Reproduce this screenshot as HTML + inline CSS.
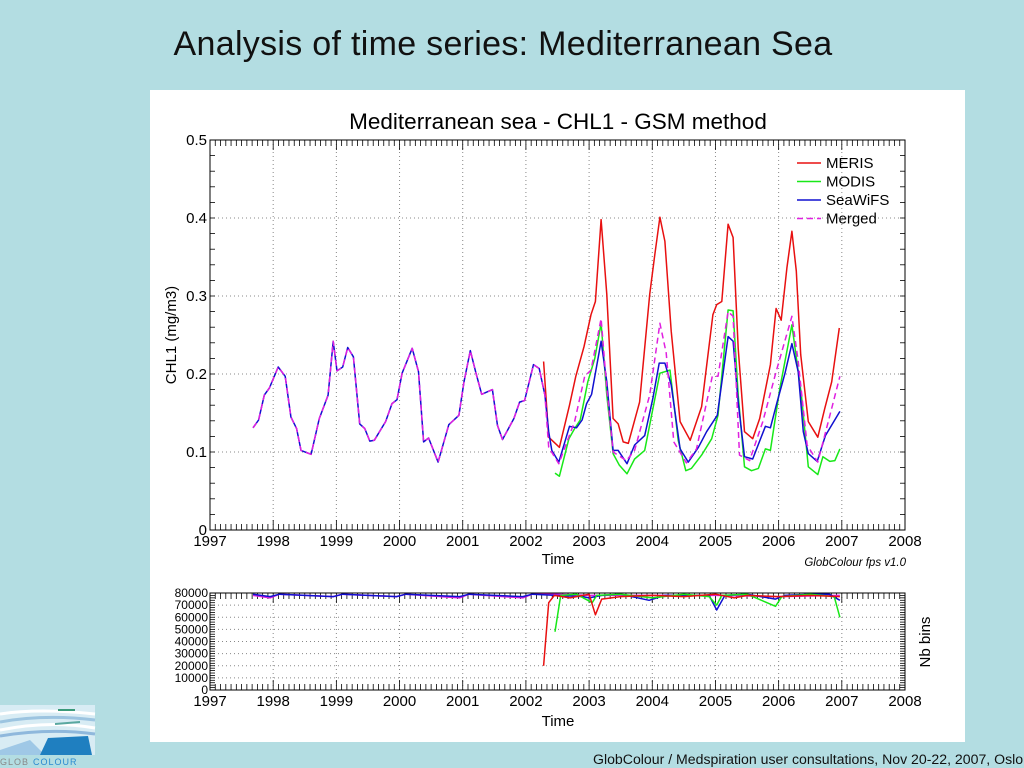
<!DOCTYPE html>
<html><head><meta charset="utf-8">
<style>
html,body{margin:0;padding:0;}
body{width:1024px;height:768px;background:#b3dde2;position:relative;overflow:hidden;font-family:"Liberation Sans",sans-serif;}
#slide-title{position:absolute;left:0;width:1006px;top:25px;text-align:center;font-size:34px;color:#111;font-family:"Liberation Sans",sans-serif;letter-spacing:0.3px;white-space:nowrap;}
#panel{position:absolute;left:150px;top:90px;width:815px;height:652px;background:#fff;}
#footer{position:absolute;left:593px;top:751px;font-size:14.1px;color:#111;white-space:nowrap;}
svg text{font-family:"Liberation Sans",sans-serif;}
</style></head><body>
<div id="slide-title">Analysis of time series: Mediterranean Sea</div>
<div id="panel"></div>
<svg id="logo" style="position:absolute;left:0;top:700px" width="100" height="68">
 <rect x="0" y="5" width="95" height="50" fill="#d8ecf4"/>
 <path d="M0 14 Q40 8 95 14" stroke="#fff" stroke-width="3" fill="none"/>
 <path d="M0 22 Q45 14 95 20" stroke="#9cc4e0" stroke-width="3" fill="none"/>
 <path d="M0 30 Q50 20 95 28" stroke="#fff" stroke-width="3" fill="none"/>
 <path d="M0 36 Q50 28 95 34" stroke="#8fb8dc" stroke-width="3" fill="none"/>
 <path d="M58 10 L75 10" stroke="#3a9a7a" stroke-width="2"/>
 <path d="M55 24 L80 22" stroke="#5aa8a0" stroke-width="2"/>
 <polygon points="0,50 30,40 45,55 0,55" fill="#9fc8e6"/>
 <polygon points="40,55 48,38 88,36 92,55" fill="#1f7fc0"/>
 <text x="0" y="65" font-size="9" fill="#888" letter-spacing="1">GLOB</text>
 <text x="33" y="65" font-size="9" fill="#2a8ad0" letter-spacing="1">COLOUR</text>
</svg>
<div id="footer">GlobColour / Medspiration user consultations, Nov 20-22, 2007, Oslo</div>
<svg id="chart" style="position:absolute;left:0;top:0" width="1024" height="768"></svg>
<script>
// ---- data ----
const seawifsT=[1997.68,1997.77,1997.86,1997.94,1998.08,1998.19,1998.28,1998.37,1998.44,1998.6,1998.73,1998.87,1998.95,1999.01,1999.10,1999.18,1999.27,1999.37,1999.45,1999.53,1999.6,1999.78,1999.88,1999.96,2000.04,2000.2,2000.3,2000.38,2000.46,2000.61,2000.78,2000.94,2001.02,2001.12,2001.21,2001.30,2001.47,2001.55,2001.63,2001.81,2001.9,2001.98,2002.12,2002.21,2002.3,2002.36,2002.41,2002.52,2002.69,2002.8,2002.89,2002.96,2003.04,2003.19,2003.28,2003.38,2003.46,2003.6,2003.72,2003.88,2004.01,2004.11,2004.20,2004.30,2004.44,2004.57,2004.73,2004.86,2005.03,2005.2,2005.28,2005.36,2005.46,2005.59,2005.79,2005.87,2005.97,2006.1,2006.21,2006.31,2006.39,2006.47,2006.61,2006.74,2006.97];
const seawifsV=[0.131,0.141,0.173,0.182,0.209,0.197,0.145,0.130,0.102,0.097,0.143,0.173,0.242,0.204,0.209,0.234,0.222,0.136,0.130,0.114,0.115,0.139,0.162,0.167,0.201,0.233,0.203,0.113,0.118,0.087,0.135,0.147,0.190,0.230,0.201,0.174,0.180,0.134,0.116,0.143,0.164,0.166,0.212,0.207,0.173,0.126,0.102,0.087,0.133,0.131,0.141,0.162,0.174,0.242,0.190,0.102,0.102,0.085,0.109,0.121,0.169,0.214,0.214,0.186,0.104,0.087,0.106,0.126,0.147,0.248,0.242,0.164,0.094,0.091,0.133,0.131,0.162,0.201,0.239,0.203,0.126,0.098,0.088,0.121,0.152];
const mergedT=[1997.68,1997.77,1997.86,1997.94,1998.08,1998.19,1998.28,1998.37,1998.44,1998.6,1998.73,1998.87,1998.95,1999.01,1999.10,1999.18,1999.27,1999.37,1999.45,1999.53,1999.6,1999.78,1999.88,1999.96,2000.04,2000.2,2000.3,2000.38,2000.46,2000.61,2000.78,2000.94,2001.02,2001.12,2001.21,2001.30,2001.47,2001.55,2001.63,2001.81,2001.9,2001.98,2002.12,2002.21,2002.3,2002.36,2002.52,2002.77,2002.93,2003.03,2003.19,2003.28,2003.38,2003.59,2003.72,2003.96,2004.12,2004.22,2004.34,2004.54,2004.70,2004.95,2005.04,2005.2,2005.28,2005.38,2005.54,2005.75,2005.96,2006.21,2006.31,2006.45,2006.62,2006.84,2006.97];
const mergedV=[0.131,0.141,0.173,0.182,0.209,0.197,0.145,0.130,0.102,0.097,0.143,0.173,0.242,0.204,0.209,0.234,0.222,0.136,0.130,0.114,0.115,0.139,0.162,0.167,0.201,0.233,0.203,0.113,0.118,0.087,0.135,0.147,0.190,0.230,0.201,0.174,0.180,0.134,0.116,0.143,0.164,0.166,0.212,0.207,0.173,0.106,0.085,0.139,0.197,0.205,0.271,0.181,0.100,0.089,0.102,0.173,0.265,0.227,0.113,0.086,0.104,0.197,0.197,0.280,0.274,0.096,0.089,0.139,0.203,0.274,0.216,0.109,0.087,0.156,0.197];
const merisT=[2002.28,2002.36,2002.53,2002.69,2002.79,2002.92,2003.03,2003.10,2003.19,2003.28,2003.38,2003.46,2003.54,2003.62,2003.8,2003.96,2004.04,2004.12,2004.20,2004.30,2004.44,2004.60,2004.78,2004.96,2005.02,2005.1,2005.2,2005.28,2005.36,2005.46,2005.59,2005.7,2005.87,2005.96,2006.04,2006.13,2006.21,2006.28,2006.35,2006.47,2006.62,2006.73,2006.84,2006.96];
const merisV=[0.216,0.119,0.106,0.160,0.197,0.235,0.276,0.293,0.398,0.302,0.143,0.136,0.113,0.111,0.164,0.302,0.353,0.401,0.370,0.255,0.139,0.115,0.158,0.276,0.289,0.293,0.392,0.375,0.233,0.126,0.117,0.143,0.212,0.284,0.269,0.336,0.383,0.332,0.225,0.139,0.119,0.156,0.190,0.259];
const modisT=[2002.46,2002.53,2002.68,2002.77,2002.86,2002.98,2003.09,2003.19,2003.28,2003.38,2003.48,2003.6,2003.72,2003.88,2003.99,2004.12,2004.28,2004.41,2004.53,2004.62,2004.78,2004.94,2005.04,2005.20,2005.28,2005.36,2005.46,2005.57,2005.68,2005.79,2005.87,2006.02,2006.21,2006.36,2006.47,2006.62,2006.70,2006.81,2006.89,2006.97];
const modisV=[0.073,0.069,0.117,0.130,0.141,0.190,0.220,0.265,0.173,0.098,0.083,0.072,0.091,0.102,0.147,0.201,0.205,0.115,0.076,0.079,0.096,0.117,0.147,0.282,0.281,0.173,0.081,0.076,0.079,0.104,0.102,0.182,0.263,0.173,0.081,0.071,0.094,0.088,0.089,0.104];
// Nb bins
const binsMerisT=[2002.28,2002.36,2002.45,2002.7,2003.0,2003.1,2003.2,2003.5,2004.0,2004.5,2005.0,2005.3,2005.5,2006.0,2006.5,2006.97];
const binsMerisV=[20000,72000,78000,76000,79000,62000,75000,77000,78000,77000,79000,76000,78000,77000,78000,77000];
const binsModisT=[2002.46,2002.55,2002.8,2003.05,2003.12,2003.5,2004.0,2004.5,2004.9,2005.02,2005.1,2005.5,2005.95,2006.05,2006.5,2006.88,2006.97];
const binsModisV=[48000,78000,79000,72000,78000,79000,76000,79000,77000,70000,78000,79000,69000,77000,79000,77000,60000];
const binsSeawifsT=[1997.68,1997.95,1998.1,1998.95,1999.1,1999.95,2000.1,2000.95,2001.1,2001.95,2002.1,2002.9,2003.0,2003.2,2003.5,2003.95,2004.2,2004.9,2005.02,2005.15,2005.5,2005.95,2006.1,2006.5,2006.8,2006.97];
const binsSeawifsV=[79000,77000,79000,77000,79000,77000,79000,77000,79000,77000,79000,77000,76000,78000,79000,74000,78000,78000,66000,78000,79000,75000,78000,79000,79000,74000];
const binsMergedT=[1997.68,1997.95,1998.1,1998.95,1999.1,1999.95,2000.1,2000.95,2001.1,2001.95,2002.1,2002.5,2003.0,2004.0,2005.0,2006.0,2006.97];
const binsMergedV=[78000,76000,79000,77000,79000,77000,79000,76000,79000,76000,79000,79000,78000,78000,78000,77000,78000];
const xTicks=[1997,1998,1999,2000,2001,2002,2003,2004,2005,2006,2007,2008];
const yTicks=[0,0.1,0.2,0.3,0.4,0.5];
const yTickLabels=["0","0.1","0.2","0.3","0.4","0.5"];
const bTicks=[0,10000,20000,30000,40000,50000,60000,70000,80000];

// ---- drawing ----
const NS="http://www.w3.org/2000/svg";
const svg=document.getElementById('chart');
function mk(tag,attrs,parent,txt){const e=document.createElementNS(NS,tag);for(const k in attrs)e.setAttribute(k,attrs[k]);if(txt!==undefined)e.textContent=txt;(parent||svg).appendChild(e);return e;}
const X0=210,X1=905;
function xs(t){return X0+(t-1997)/(2008-1997)*(X1-X0);}
const Y0=530,Y1=140;
function ys(v){return Y0-v/0.5*(Y0-Y1);}
const B0=690,B1=593;
function yb(v){return B0-v/80000*(B0-B1);}

function frame(top,bot,yTicksArr,yFn,minorStep,ymax,name){
  const g=mk('g',{});
  
  
  xTicks.slice(1,-1).forEach(t=>{const l=mk('line',{x1:xs(t),x2:xs(t),y1:top,y2:bot,stroke:'#888','stroke-width':1,'stroke-dasharray':'1,3'},g);});
  yTicksArr.slice(1,-1).forEach(v=>{const l=mk('line',{x1:X0,x2:X1,y1:yFn(v),y2:yFn(v),stroke:'#888','stroke-width':1,'stroke-dasharray':'1,3'},g);});
  for(let m=0;m<=132;m++){const x=xs(1997+m/12);const len=(m%12===0)?10:6;
    mk('line',{x1:x,x2:x,y1:bot,y2:bot-len,stroke:'#000','stroke-width':0.8},g);
    mk('line',{x1:x,x2:x,y1:top,y2:top+len,stroke:'#000','stroke-width':0.8},g);}
  for(let v=0;v<=ymax+1e-9;v+=minorStep){const y=yFn(v);
    mk('line',{x1:X0,x2:X0+5,y1:y,y2:y,stroke:'#000','stroke-width':0.8},g);
    mk('line',{x1:X1,x2:X1-5,y1:y,y2:y,stroke:'#000','stroke-width':0.8},g);}
  const r=mk('rect',{x:X0,y:top,width:X1-X0,height:bot-top,fill:'none',stroke:'#000','stroke-width':1},g);
  
  xTicks.forEach(t=>{const tx=mk('text',{x:xs(t),y:bot+16,'font-size':15,'text-anchor':'middle'},g,String(t));});
  return g;
}
function line(T,V,xf,yf,color,name,dash){
  let d='';T.forEach((t,i)=>{d+=(i?'L':'M')+xf(t).toFixed(1)+' '+yf(V[i]).toFixed(1);});
  const p=mk('path',{d:d,fill:'none',stroke:color,'stroke-width':1.5,'stroke-linejoin':'round'});
  if(dash)p.setAttribute('stroke-dasharray',dash);
  
  
}
frame(Y1,Y0,yTicks,ys,0.02,0.5,'main-plot');
yTicks.forEach((v,i)=>{const t=mk('text',{x:X0-3,y:ys(v)+5,'font-size':15,'text-anchor':'end'},svg,yTickLabels[i]);});
let t;
t=mk('text',{x:558,y:129,'font-size':22.5,'text-anchor':'middle'},svg,'Mediterranean sea - CHL1 - GSM method');
t=mk('text',{x:176,y:335,'font-size':15,'text-anchor':'middle',transform:'rotate(-90 176 335)'},svg,'CHL1 (mg/m3)');
t=mk('text',{x:558,y:564,'font-size':15,'text-anchor':'middle'},svg,'Time');
t=mk('text',{x:906,y:566,'font-size':11.5,'text-anchor':'end','font-style':'italic'},svg,'GlobColour fps v1.0');

line(modisT,modisV,xs,ys,'#18e818','modis-line');
line(merisT,merisV,xs,ys,'#e81010','meris-line');
line(seawifsT,seawifsV,xs,ys,'#1010d0','seawifs-line');
line(mergedT,mergedV,xs,ys,'#e020e0','merged-line','6,4');

const legendNames=['MERIS','MODIS','SeaWiFS','Merged'];
const legendColors=['#e81010','#18e818','#1010d0','#e020e0'];
legendNames.forEach((n,i)=>{const y=163+i*18.5;
  const g=mk('g',{});
  const l=mk('line',{x1:797,x2:821,y1:y,y2:y,stroke:legendColors[i],'stroke-width':1.5},g);if(i===3)l.setAttribute('stroke-dasharray','6,4');
  mk('text',{x:826,y:y+5,'font-size':15},g,n);});

frame(B1,B0,bTicks,yb,2000,80000,'bins-plot');
bTicks.forEach(v=>{const t=mk('text',{x:X0-2,y:yb(v)+4,'font-size':12,'text-anchor':'end'},svg,String(v));});
t=mk('text',{x:558,y:726,'font-size':15,'text-anchor':'middle'},svg,'Time');
t=mk('text',{x:930,y:642,'font-size':15,'text-anchor':'middle',transform:'rotate(-90 930 642)'},svg,'Nb bins');
line(binsMergedT,binsMergedV,xs,yb,'#e020e0','bins-merged-line');
line(binsSeawifsT,binsSeawifsV,xs,yb,'#1010d0','bins-seawifs-line');
line(binsModisT,binsModisV,xs,yb,'#18e818','bins-modis-line');
line(binsMerisT,binsMerisV,xs,yb,'#e81010','bins-meris-line');
</script>
</body></html>
